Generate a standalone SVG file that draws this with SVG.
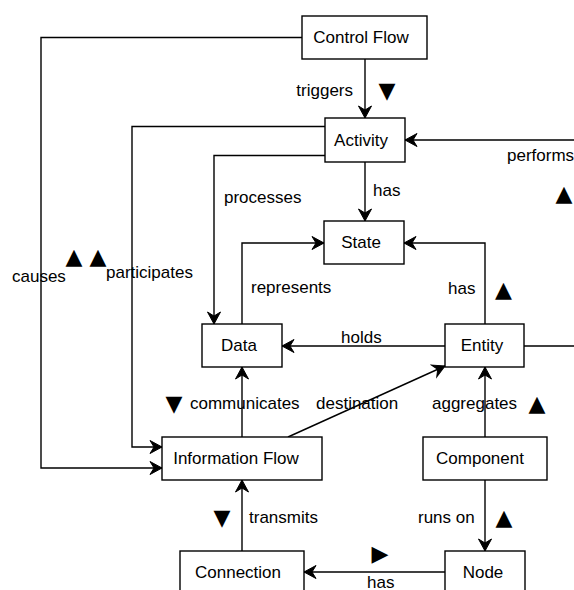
<svg xmlns="http://www.w3.org/2000/svg" width="574" height="590" viewBox="0 0 574 590">
  <style>
    .box { fill: #ffffff; stroke: #000000; stroke-width: 1.4; }
    .name { font-family: "Liberation Sans", Arial, Helvetica, sans-serif; font-size: 17px; fill: #000000; text-anchor: middle; dominant-baseline: central; }
    .lbl { font-family: "Liberation Sans", Arial, Helvetica, sans-serif; font-size: 17px; fill: #000000; dominant-baseline: central; }
    .tri { font-family: "DejaVu Sans", sans-serif; font-size: 22px; fill: #000000; text-anchor: middle; dominant-baseline: central; }
    .edge { fill: none; stroke: #000000; stroke-width: 1.4; }
    .arrow { marker-end: url(#head); }
  </style>
  <defs>
    <marker id="head" viewBox="-13 -8 14 16" refX="0" refY="0" markerWidth="14" markerHeight="16" markerUnits="userSpaceOnUse" orient="auto">
      <path d="M0,0 L-12,-6.5 L-8,0 L-12,6.5 Z" fill="#000000" stroke="#000000" stroke-width="1"/>
    </marker>
  </defs>

  <!-- connectors -->
  <g id="edges">
    <path class="edge arrow" d="M365,59 L365,118"/>
    <path class="edge arrow" d="M302,37.5 L41,37.5 L41,468 L162,468"/>
    <path class="edge arrow" d="M325,126.5 L132,126.5 L132,447 L162,447"/>
    <path class="edge arrow" d="M325,155.5 L214,155.5 L214,324"/>
    <path class="edge arrow" d="M365,162 L365,221"/>
    <path class="edge arrow" d="M524,346 L600,346 L600,140 L405,140"/>
    <path class="edge arrow" d="M242,324 L242,243 L324,243"/>
    <path class="edge arrow" d="M485,324 L485,243 L404,243"/>
    <path class="edge arrow" d="M445,346 L282,346"/>
    <path class="edge arrow" d="M242,437 L242,367"/>
    <path class="edge arrow" d="M288,437 L445,366"/>
    <path class="edge arrow" d="M485,437 L485,367"/>
    <path class="edge arrow" d="M485,480 L485,551"/>
    <path class="edge arrow" d="M242,551 L242,480"/>
    <path class="edge arrow" d="M445,572 L304,572"/>

    <!-- edge labels -->
    <text class="lbl" x="353" y="90" text-anchor="end">triggers</text>
    <text class="tri" x="387" y="90">▼</text>
    <text class="lbl" x="373" y="190">has</text>
    <text class="lbl" x="224" y="197">processes</text>
    <text class="lbl" x="507" y="155">performs</text>
    <text class="tri" x="564" y="193">▲</text>
    <text class="lbl" x="12" y="276">causes</text>
    <text class="tri" x="74" y="256">▲</text>
    <text class="tri" x="98" y="256">▲</text>
    <text class="lbl" x="106" y="272">participates</text>
    <text class="lbl" x="251" y="287">represents</text>
    <text class="lbl" x="448" y="288">has</text>
    <text class="tri" x="503.5" y="289">▲</text>
    <text class="lbl" x="341" y="337">holds</text>
    <text class="tri" x="174" y="403">▼</text>
    <text class="lbl" x="190" y="403">communicates</text>
    <text class="lbl" x="316" y="403">destination</text>
    <text class="lbl" x="432" y="403">aggregates</text>
    <text class="tri" x="537" y="403">▲</text>
    <text class="tri" x="222" y="517">▼</text>
    <text class="lbl" x="249" y="517">transmits</text>
    <text class="lbl" x="418" y="517">runs on</text>
    <text class="tri" x="504" y="517">▲</text>
    <text class="tri" x="380" y="553">▶</text>
    <text class="lbl" x="367" y="582">has</text>
  </g>

  <!-- nodes -->
  <g id="control-flow">
    <rect class="box" x="302" y="16" width="125" height="43"/>
    <text class="name" x="361" y="37.5">Control Flow</text>
  </g>
  <g id="activity">
    <rect class="box" x="325" y="118" width="80" height="44"/>
    <text class="name" x="361" y="140">Activity</text>
  </g>
  <g id="state">
    <rect class="box" x="324" y="221" width="80" height="43"/>
    <text class="name" x="361" y="242.5">State</text>
  </g>
  <g id="data">
    <rect class="box" x="202" y="324" width="80" height="43"/>
    <text class="name" x="239" y="345.5">Data</text>
  </g>
  <g id="entity">
    <rect class="box" x="445" y="324" width="79" height="43"/>
    <text class="name" x="482" y="345.5">Entity</text>
  </g>
  <g id="information-flow">
    <rect class="box" x="162" y="437" width="160" height="43"/>
    <text class="name" x="236" y="458.5">Information Flow</text>
  </g>
  <g id="component">
    <rect class="box" x="423" y="437" width="124" height="43"/>
    <text class="name" x="480" y="458.5">Component</text>
  </g>
  <g id="connection">
    <rect class="box" x="180" y="551" width="124" height="43"/>
    <text class="name" x="238" y="572.5">Connection</text>
  </g>
  <g id="node">
    <rect class="box" x="445" y="551" width="80" height="43"/>
    <text class="name" x="483" y="572.5">Node</text>
  </g>
</svg>
